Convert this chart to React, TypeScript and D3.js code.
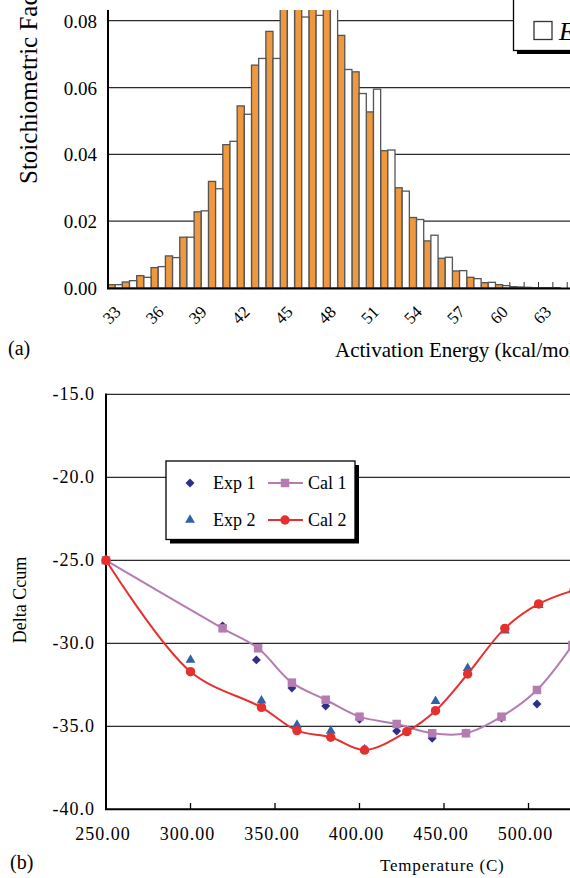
import React, { useEffect, useRef } from "react";
import * as d3 from "d3";

// ---- panel (a): stoichiometric factor vs activation energy ----
const energies = [33, 34, 35, 36, 37, 38, 39, 40, 41, 42, 43, 44, 45, 46, 47, 48, 49,
  50, 51, 52, 53, 54, 55, 56, 57, 58, 59, 60, 61, 62, 63, 64, 65];
const orangeFactor = [0.0010, 0.0018, 0.0037, 0.0061, 0.0096, 0.0152, 0.0228, 0.0319, 0.0429,
  0.0545, 0.0667, 0.0768, 0.092, 0.097, 0.099, 0.094, 0.0756, 0.0647, 0.0527, 0.0411, 0.0300,
  0.0211, 0.0141, 0.0089, 0.0051, 0.0032, 0.0016, 0.0010, 0.0004, 0.0002, 0.0001, 0.0001, 0];
const whiteFactor = [0.0010, 0.0022, 0.0032, 0.0064, 0.0091, 0.0152, 0.0231, 0.0297, 0.0439,
  0.0520, 0.0687, 0.0687, 0.090, 0.0811, 0.0816, 0.088, 0.0654, 0.0582, 0.0595, 0.0413, 0.0290,
  0.0205, 0.0158, 0.0092, 0.0052, 0.0028, 0.0017, 0.0007, 0.0003, 0.0001, 0.0001, 0, 0];
const energyTicks = [33, 36, 39, 42, 45, 48, 51, 54, 57, 60, 63];
const factorTicks = [0, 0.02, 0.04, 0.06, 0.08];

// ---- panel (b): delta Ccum vs temperature ----
const exp1T = [250, 319, 339, 360, 380, 400, 422, 443, 463, 484, 505];
const exp1V = [-25.0, -28.95, -31.0, -32.7, -33.78, -34.58, -35.28, -35.72, -35.4, -34.5, -33.66];
const exp2T = [250, 300, 342, 363, 383, 403, 428, 445, 464, 486, 506];
const exp2V = [-25.0, -31.0, -33.46, -34.92, -35.28, -36.4, -35.3, -33.48, -31.5, -29.24, -27.7];
const cal1T = [250, 319, 340, 360, 380, 400, 422, 443, 463, 484, 505, 526];
const cal1V = [-25.0, -29.1, -30.3, -32.37, -33.4, -34.42, -34.86, -35.42, -35.42, -34.42, -32.81, -30.1];
const cal2T = [250, 300, 342, 363, 383, 403, 428, 445, 464, 486, 506, 527];
const cal2V = [-25.0, -31.71, -33.86, -35.26, -35.66, -36.43, -35.32, -34.06, -31.85, -29.1, -27.63, -26.8];
const tempTicks = [250, 300, 350, 400, 450, 500, 550];
const deltaTicks = [-15, -20, -25, -30, -35, -40];

const serif = "'Liberation Serif', 'Times New Roman', serif";
const orange = "#f0983e";
const navy = "#2e2e8c";
const blue = "#3162a8";
const mauve = "#b47cb0";
const red = "#e5312e";

type Sel = d3.Selection<SVGSVGElement, unknown, null, undefined>;

function drawTop(svg: Sel) {
  const g = svg.append("g");
  const step = 14.35;
  const x = d3.scaleBand<number>().domain(energies).range([108, 108 + step * energies.length]).padding(0);
  const xs = d3.scaleBand<string>().domain(["o", "w"]).range([0, x.bandwidth()]);
  const y = d3.scaleLinear().domain([0, 0.08]).range([288, 20.7]);

  svg.append("clipPath").attr("id", "clipA")
    .append("rect").attr("x", 100).attr("y", 10).attr("width", 500).attr("height", 290);

  // gridlines
  g.selectAll(".grid").data(factorTicks.slice(1)).join("line")
    .attr("x1", 108).attr("x2", 580)
    .attr("y1", d => y(d)).attr("y2", d => y(d))
    .attr("stroke", "#2a2a2a").attr("stroke-width", 1.3);

  // category ticks (inside)
  g.selectAll(".tick").data(energies.slice(1)).join("line")
    .attr("x1", d => x(d)!).attr("x2", d => x(d)!)
    .attr("y1", 288).attr("y2", 282)
    .attr("stroke", "#333").attr("stroke-width", 1);

  const bars = g.append("g").attr("clip-path", "url(#clipA)");
  bars.selectAll(".o").data(energies).join("rect")
    .attr("x", d => x(d)! + xs("o")!)
    .attr("y", (d, i) => y(orangeFactor[i]))
    .attr("width", xs.bandwidth())
    .attr("height", (d, i) => y(0) - y(orangeFactor[i]))
    .attr("fill", orange).attr("stroke", "#555").attr("stroke-width", 1.3);
  bars.selectAll(".w").data(energies).join("rect")
    .attr("x", d => x(d)! + xs("w")!)
    .attr("y", (d, i) => y(whiteFactor[i]))
    .attr("width", xs.bandwidth())
    .attr("height", (d, i) => y(0) - y(whiteFactor[i]))
    .attr("fill", "#fff").attr("stroke", "#555").attr("stroke-width", 1.3);

  // axes lines
  g.append("line").attr("x1", 108).attr("x2", 108).attr("y1", 10).attr("y2", 289)
    .attr("stroke", "#000").attr("stroke-width", 2);
  g.append("line").attr("x1", 107).attr("x2", 580).attr("y1", 288.5).attr("y2", 288.5)
    .attr("stroke", "#000").attr("stroke-width", 2);

  // tick labels
  g.selectAll(".yl").data(factorTicks).join("text")
    .attr("x", 97).attr("y", d => y(d) + 7)
    .attr("text-anchor", "end")
    .attr("font-family", serif).attr("font-size", 19)
    .text(d => d.toFixed(2));

  g.selectAll(".xl").data(energyTicks).join("text")
    .attr("transform", d => `translate(${x(d)! + x.bandwidth() / 2 + 6.5}, 313) rotate(-45)`)
    .attr("text-anchor", "end")
    .attr("font-family", serif).attr("font-size", 17)
    .text(d => d);

  g.append("text")
    .attr("transform", "translate(37, 184) rotate(-90)")
    .attr("font-family", serif).attr("font-size", 25)
    .text("Stoichiometric Factor");

  g.append("text").attr("x", 8).attr("y", 355)
    .attr("font-family", serif).attr("font-size", 20).text("(a)");
  g.append("text").attr("x", 335).attr("y", 357)
    .attr("font-family", serif).attr("font-size", 21).text("Activation Energy (kcal/mol)");

  // legend (mostly cropped)
  g.append("rect").attr("x", 517).attr("y", -5).attr("width", 80).attr("height", 59).attr("fill", "#000");
  g.append("rect").attr("x", 513.5).attr("y", -8).attr("width", 80).attr("height", 58.5)
    .attr("fill", "#fff").attr("stroke", "#000").attr("stroke-width", 1.3);
  g.append("rect").attr("x", 534).attr("y", 21.5).attr("width", 18).attr("height", 18)
    .attr("fill", "#fff").attr("stroke", "#333").attr("stroke-width", 1.3);
  g.append("text").attr("x", 559).attr("y", 40)
    .attr("font-family", serif).attr("font-size", 26).attr("font-style", "italic").text("E");
}

function drawBottom(svg: Sel) {
  const g = svg.append("g");
  const x = d3.scaleLinear().domain([250, 550]).range([106, 613]);
  const y = d3.scaleLinear().domain([-40, -15]).range([809.3, 394.3]);

  g.selectAll(".grid").data(deltaTicks.slice(0, 5)).join("line")
    .attr("x1", 106).attr("x2", 613)
    .attr("y1", d => y(d)).attr("y2", d => y(d))
    .attr("stroke", "#2a2a2a").attr("stroke-width", 1.3);

  g.selectAll(".tick").data(tempTicks.slice(1)).join("line")
    .attr("x1", d => x(d)).attr("x2", d => x(d))
    .attr("y1", 809).attr("y2", 803)
    .attr("stroke", "#000").attr("stroke-width", 1.3);

  g.append("line").attr("x1", 106).attr("x2", 106).attr("y1", 393.5).attr("y2", 810)
    .attr("stroke", "#000").attr("stroke-width", 2);
  g.append("line").attr("x1", 105).attr("x2", 613).attr("y1", 809.3).attr("y2", 809.3)
    .attr("stroke", "#000").attr("stroke-width", 2);

  g.selectAll(".yl").data(deltaTicks).join("text")
    .attr("x", 95).attr("y", d => y(d) + 6)
    .attr("text-anchor", "end")
    .attr("font-family", serif).attr("font-size", 18).attr("letter-spacing", 1)
    .text(d => d.toFixed(1));

  g.selectAll(".xl").data(tempTicks).join("text")
    .attr("x", d => x(d) - 3).attr("y", 840)
    .attr("text-anchor", "middle")
    .attr("font-family", serif).attr("font-size", 18).attr("letter-spacing", 1)
    .text(d => d.toFixed(2));

  g.append("text")
    .attr("transform", "translate(26, 600) rotate(-90)")
    .attr("text-anchor", "middle")
    .attr("font-family", serif).attr("font-size", 18)
    .text("Delta Ccum");
  g.append("text").attr("x", 380).attr("y", 871)
    .attr("font-family", serif).attr("font-size", 17).attr("letter-spacing", 0.8)
    .text("Temperature (C)");
  g.append("text").attr("x", 10).attr("y", 869)
    .attr("font-family", serif).attr("font-size", 20).text("(b)");

  const line = d3.line<number>().curve(d3.curveCatmullRom.alpha(0.5));
  const diamond = d3.symbol().type(d3.symbolSquare).size(40)();
  const tri = d3.symbol().type(d3.symbolTriangle).size(42)();
  const square = d3.symbol().type(d3.symbolSquare).size(72)();
  const circle = d3.symbol().type(d3.symbolCircle).size(70)();

  // experimental points
  g.selectAll(".e1").data(exp1T).join("path")
    .attr("d", diamond)
    .attr("transform", (d, i) => `translate(${x(d)}, ${y(exp1V[i])}) rotate(45)`)
    .attr("fill", navy);
  g.selectAll(".e2").data(exp2T).join("path")
    .attr("d", tri)
    .attr("transform", (d, i) => `translate(${x(d)}, ${y(exp2V[i])})`)
    .attr("fill", blue);

  // calculated curves
  g.append("path")
    .attr("d", line.x((d, i) => x(cal1T[i])).y(d => y(d))(cal1V))
    .attr("fill", "none").attr("stroke", mauve).attr("stroke-width", 2);
  g.selectAll(".c1").data(cal1T).join("path")
    .attr("d", square)
    .attr("transform", (d, i) => `translate(${x(d)}, ${y(cal1V[i])})`)
    .attr("fill", mauve);
  g.append("path")
    .attr("d", line.x((d, i) => x(cal2T[i])).y(d => y(d))(cal2V))
    .attr("fill", "none").attr("stroke", red).attr("stroke-width", 2);
  g.selectAll(".c2").data(cal2T).join("path")
    .attr("d", circle)
    .attr("transform", (d, i) => `translate(${x(d)}, ${y(cal2V[i])})`)
    .attr("fill", red);

  // legend
  const lg = g.append("g");
  lg.append("rect").attr("x", 170).attr("y", 465).attr("width", 189).attr("height", 78.5).attr("fill", "#000");
  lg.append("rect").attr("x", 166).attr("y", 461).attr("width", 189).attr("height", 78.5)
    .attr("fill", "#fff").attr("stroke", "#000").attr("stroke-width", 1.3);
  const rows = [
    { y: 483, exp: "Exp 1", cal: "Cal 1", mk: diamond, rot: 45, color: navy, lc: mauve, cmk: square },
    { y: 520, exp: "Exp 2", cal: "Cal 2", mk: tri, rot: 0, color: blue, lc: red, cmk: circle },
  ];
  rows.forEach(r => {
    lg.append("path").attr("d", r.mk)
      .attr("transform", `translate(190, ${r.y}) rotate(${r.rot})`).attr("fill", r.color);
    lg.append("text").attr("x", 213).attr("y", r.y + 6)
      .attr("font-family", serif).attr("font-size", 18).text(r.exp);
    lg.append("line").attr("x1", 268).attr("x2", 303).attr("y1", r.y).attr("y2", r.y)
      .attr("stroke", r.lc).attr("stroke-width", 2);
    lg.append("path").attr("d", r.cmk)
      .attr("transform", `translate(285, ${r.y})`).attr("fill", r.lc);
    lg.append("text").attr("x", 308).attr("y", r.y + 6)
      .attr("font-family", serif).attr("font-size", 18).text(r.cal);
  });
}

export default function App() {
  const ref = useRef<SVGSVGElement>(null);

  useEffect(() => {
    if (!ref.current) return;
    const svg = d3.select(ref.current);
    svg.selectAll("*").remove();
    drawTop(svg);
    drawBottom(svg);
  }, []);

  return (
    <svg
      ref={ref}
      width={570}
      height={878}
      style={{ position: "absolute", left: 0, top: 0, background: "#fff" }}
    />
  );
}
